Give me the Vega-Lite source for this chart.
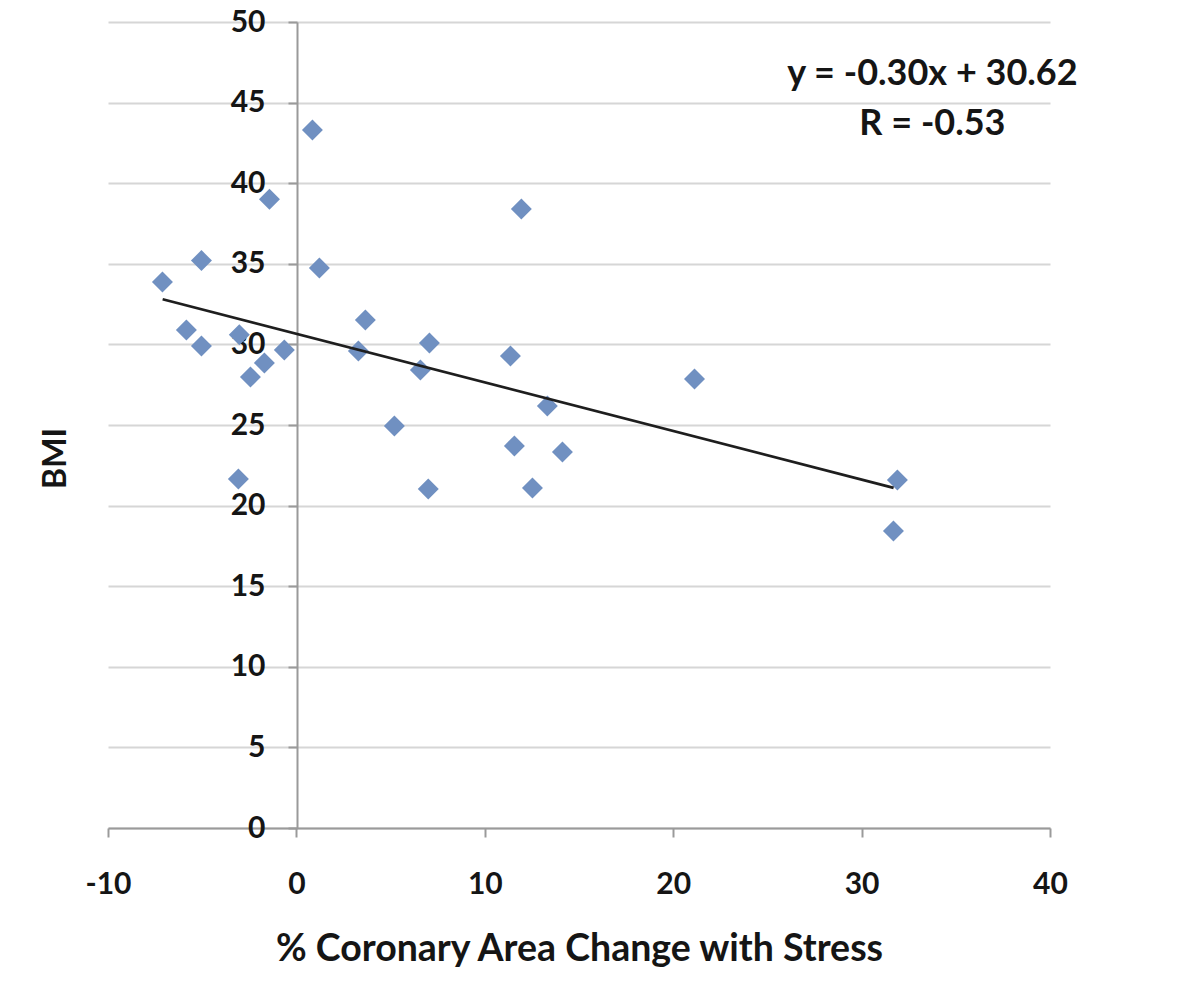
{
  "$schema": "https://vega.github.io/schema/vega-lite/v6.json",
  "autosize": "none",
  "width": 942,
  "height": 806,
  "padding": {"left": 108, "top": 22, "right": 150, "bottom": 160},
  "background": "white",
  "config": {
    "view": {"stroke": null},
    "font": "Lato",
    "axis": {
      "labelFont": "Lato", "labelFontWeight": "bold", "labelFontSize": 30, "labelColor": "#151515",
      "titleFont": "Lato", "titleFontWeight": "bold", "titleFontSize": 37.5, "titleColor": "#151515",
      "domainColor": "#9a9a9a", "domainWidth": 2, "tickColor": "#9a9a9a", "tickWidth": 2, "tickSize": 9,
      "gridColor": "#d6d6d6", "gridWidth": 2, "labelFlush": false
    }
  },
  "datasets": {
    "pts": [
      {"x": -7.11, "y": 33.87}, {"x": -5.84, "y": 30.9}, {"x": -5.04, "y": 35.2}, {"x": -5.04, "y": 29.9},
      {"x": -3.03, "y": 30.6}, {"x": -3.08, "y": 21.65}, {"x": -2.44, "y": 27.98}, {"x": -1.7, "y": 28.85},
      {"x": -1.43, "y": 39.0}, {"x": -0.64, "y": 29.65}, {"x": 0.85, "y": 43.3}, {"x": 1.22, "y": 34.74},
      {"x": 3.29, "y": 29.59}, {"x": 3.66, "y": 31.51}, {"x": 5.2, "y": 24.94}, {"x": 6.58, "y": 28.41},
      {"x": 7.06, "y": 30.09}, {"x": 7.0, "y": 21.03}, {"x": 11.36, "y": 29.28}, {"x": 11.57, "y": 23.7},
      {"x": 11.94, "y": 38.4}, {"x": 12.53, "y": 21.09}, {"x": 13.32, "y": 26.18}, {"x": 14.12, "y": 23.33},
      {"x": 21.13, "y": 27.85}, {"x": 31.9, "y": 21.59}, {"x": 31.69, "y": 18.42}
    ],
    "fit": [{"x": -7.1, "y": 32.8}, {"x": 31.7, "y": 21.1}],
    "notes": [{"x": 33.76, "y": 46.8, "t": "y = -0.30x + 30.62"}, {"x": 33.76, "y": 43.65, "t": "R = -0.53"}]
  },
  "layer": [
    {
      "data": {"name": "pts"},
      "mark": {"type": "point", "shape": "diamond", "filled": true, "size": 440, "color": "#7090c1", "opacity": 1},
      "encoding": {
        "x": {"field": "x", "type": "quantitative", "scale": {"domain": [-10, 40], "nice": false, "zero": false},
          "axis": {"values": [-10, 0, 10, 20, 30, 40], "grid": false, "labelPadding": 32, "labelExpr": "replace(datum.label, '\u2212', '-')",
            "title": "% Coronary Area Change with Stress", "titlePadding": 31}},
        "y": {"field": "y", "type": "quantitative", "scale": {"domain": [0, 50], "nice": false},
          "axis": {"values": [0, 5, 10, 15, 20, 25, 30, 35, 40, 45, 50], "grid": true, "offset": -189, "labelPadding": 23,
            "title": "BMI", "titleFontSize": 32, "titleX": -242, "titleY": 436, "titleAngle": -90, "titleAlign": "center", "titleBaseline": "middle"}}
      }
    },
    {
      "data": {"name": "fit"},
      "mark": {"type": "line", "color": "#1e1e1e", "strokeWidth": 2.8},
      "encoding": {"x": {"field": "x", "type": "quantitative"}, "y": {"field": "y", "type": "quantitative"}}
    },
    {
      "data": {"name": "notes"},
      "mark": {"type": "text", "font": "Lato", "fontWeight": "bold", "fontSize": 36, "color": "#151515", "align": "center", "baseline": "middle"},
      "encoding": {"x": {"field": "x", "type": "quantitative"}, "y": {"field": "y", "type": "quantitative"}, "text": {"field": "t"}}
    }
  ]
}
